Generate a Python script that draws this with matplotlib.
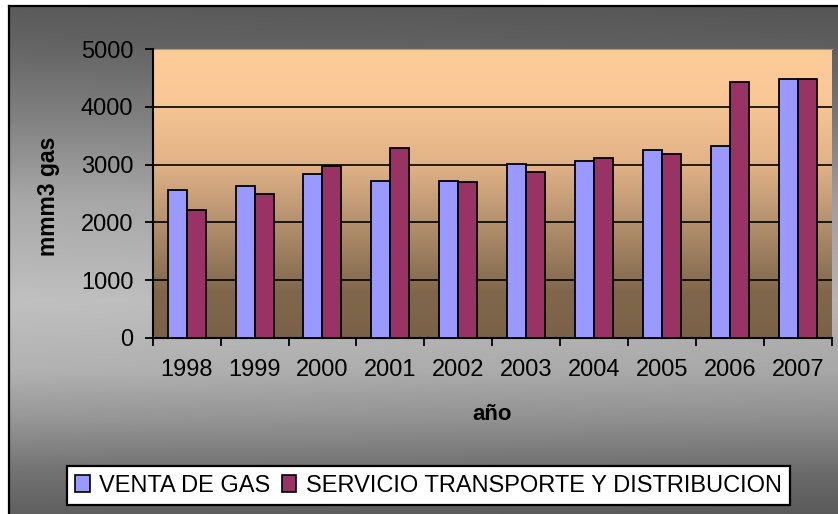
import numpy as np
import matplotlib
matplotlib.use("Agg")
import matplotlib.pyplot as plt
from matplotlib.lines import Line2D
from matplotlib.patches import Patch

plt.rcParams['font.family'] = ['Liberation Sans', 'DejaVu Sans']

years = ['1998', '1999', '2000', '2001', '2002', '2003', '2004', '2005', '2006', '2007']
venta_gas = [2555, 2625, 2830, 2722, 2722, 3003, 3068, 3247, 3316, 4488]
servicio = [2208, 2490, 2970, 3280, 2693, 2866, 3108, 3178, 4422, 4488]
series_names = ['VENTA DE GAS', 'SERVICIO TRANSPORTE Y DISTRIBUCION']
colors = ['#9999ff', '#993366']

W, H = 838, 514
fig = plt.figure(figsize=(W / 100, H / 100), dpi=100)

# figure background: gray gradient, dark at top and bottom, light in the middle
bg = fig.add_axes([0, 0, 1, 1], zorder=-10)
yy = np.arange(H)
knots_y = [0, 40, 120, 200, 300, 370, 420, 470, 514]
knots_v = [90, 99, 130, 168, 192, 178, 150, 115, 96]
prof = np.interp(yy, knots_y, knots_v) / 255.0
xx = np.linspace(0, 1, W)
img = prof[:, None] * (1.0 - 0.06 * xx[None, :])
img = np.dstack([img, img, img])
img[:5, :, :] = 1.0
img[:, :8, :] = 1.0
bg.imshow(img, extent=[0, 1, 0, 1], aspect='auto', interpolation='bilinear')
bg.set_xlim(0, 1)
bg.set_ylim(0, 1)
bg.axis('off')
bx, by = 8.5 / W, 1 - 5.5 / H
bg.add_line(Line2D([bx, bx], [0, by], color='black', lw=1.6))
bg.add_line(Line2D([bx, 1], [by, by], color='black', lw=1.6))

ax = fig.add_axes([152.7 / W, 1 - 338 / H, (831.7 - 152.7) / W, (338 - 49) / H])
ax.set_facecolor('none')

# plot area gradient: peach at top to brown at bottom
gv = np.linspace(0, 5000, 400)
kv = [0, 800, 2000, 3000, 4200, 5000]
r = np.interp(gv, kv, [122, 128, 180, 225, 250, 253])
g = np.interp(gv, kv, [98, 103, 145, 178, 200, 204])
b = np.interp(gv, kv, [72, 76, 110, 135, 150, 153])
grad = np.dstack([r, g, b])[0][::-1][:, None, :] / 255.0
ax.imshow(grad, extent=[-0.5, 9.5, 0, 5000], aspect='auto', zorder=0,
          interpolation='bilinear')

x = np.arange(len(years))
bw = 0.28
ax.bar(x - bw / 2, venta_gas, bw, color=colors[0], edgecolor='black', lw=1.3, zorder=3)
ax.bar(x + bw / 2, servicio, bw, color=colors[1], edgecolor='black', lw=1.3, zorder=3)

ax.set_xlim(-0.5, 9.5)
ax.set_ylim(0, 5000)
ax.set_yticks(np.arange(0, 5001, 1000))
ax.yaxis.grid(True, color='black', lw=1.2, zorder=1)
ax.set_axisbelow(True)
ax.set_xticks(x)
ax.set_xticklabels(years)
ax.set_xticks(np.arange(-0.5, 10, 1), minor=True)
ax.tick_params(axis='x', which='major', length=0, pad=15, labelsize=17)
ax.tick_params(axis='x', which='minor', length=6, width=1.3, direction='out')
ax.tick_params(axis='y', length=6, width=1.3, pad=8, labelsize=17)

for s in ['top', 'right']:
    ax.spines[s].set_visible(False)
ax.spines['left'].set_linewidth(1.5)
ax.spines['bottom'].set_linewidth(1.5)
ax.plot([-0.5, 9.5], [5000, 5000], color='#9a9a9a', lw=0.8, zorder=2, clip_on=False)

fig.text(48 / W, 1 - 196 / H, 'mmm3 gas', rotation=90, fontsize=16.5, fontweight='bold',
         ha='center', va='center')
fig.text(492 / W, 1 - 415 / H, 'año', fontsize=16, fontweight='bold',
         ha='center', va='center')

handles = [Patch(facecolor=colors[0], edgecolor='black', lw=1.2),
           Patch(facecolor=colors[1], edgecolor='black', lw=1.2)]
leg = fig.legend(handles, series_names, loc='center', ncol=2,
                 bbox_to_anchor=(428.5 / W, 1 - 485.5 / H), fontsize=17,
                 frameon=True, fancybox=False, shadow=False, borderpad=0.35,
                 handlelength=0.6, handleheight=0.75, handletextpad=0.4,
                 columnspacing=0.5, borderaxespad=0)
leg.get_frame().set_edgecolor('black')
leg.get_frame().set_linewidth(1.6)
leg.get_frame().set_facecolor('white')
leg.get_frame().set_alpha(1)

fig.savefig('out.png', dpi=100)
